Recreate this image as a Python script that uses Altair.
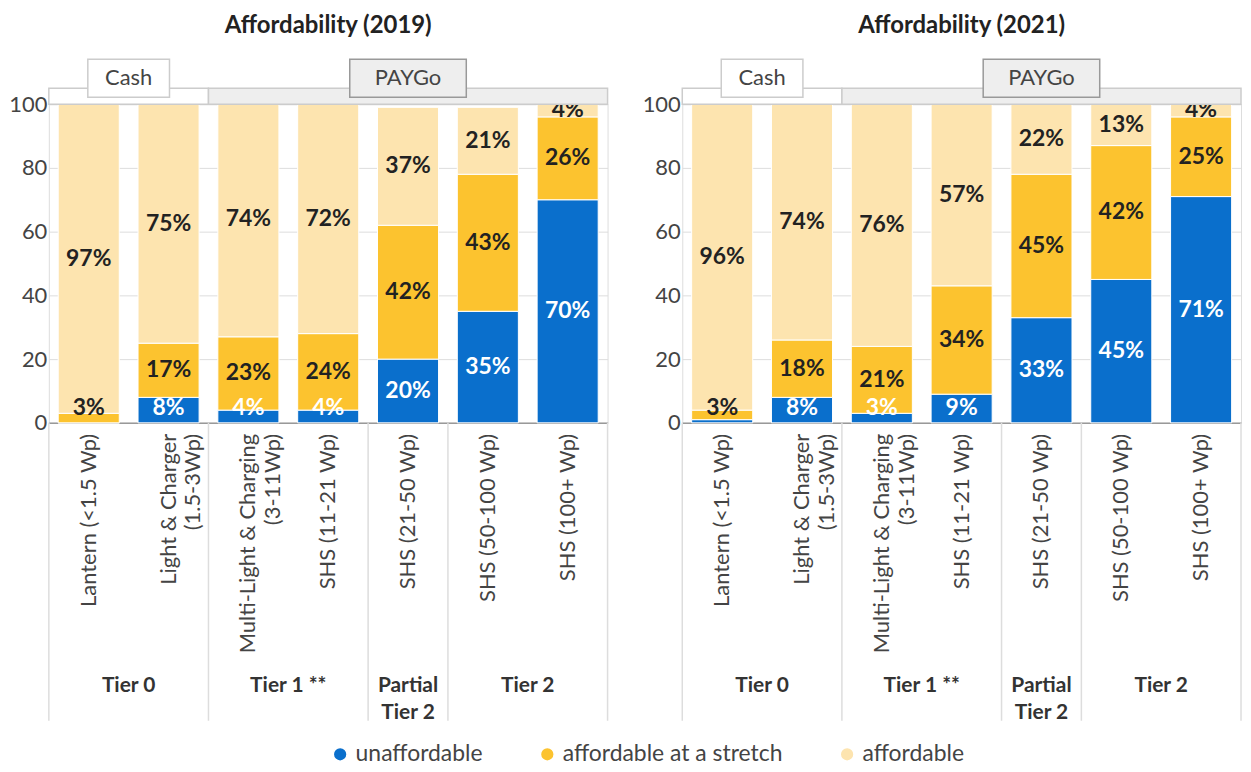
import altair as alt
import pandas as pd

products = ["Lantern  (<1.5 Wp)", "Light & Charger\n(1.5-3Wp)", "Multi-Light & Charging\n(3-11Wp)",
            "SHS  (11-21 Wp)", "SHS  (21-50 Wp)", "SHS  (50-100 Wp)", "SHS  (100+ Wp)"]
levels = ["unaffordable", "affordable at a stretch", "affordable"]

unaff_2019 = [0, 8, 4, 4, 20, 35, 70]
stretch_2019 = [3, 17, 23, 24, 42, 43, 26]
afford_2019 = [97, 75, 74, 72, 37, 21, 4]

unaff_2021 = [1, 8, 3, 9, 33, 45, 71]
stretch_2021 = [3, 18, 21, 34, 45, 42, 25]
afford_2021 = [96, 74, 76, 57, 22, 13, 4]

tiers = ["Tier 0", "Tier 1 **", "Partial\nTier 2", "Tier 2"]
tier_bounds = [0, 2, 4, 5, 7]          # product-index boundaries
payments = ["Cash", "PAYGo"]
payment_bounds = [0, 2, 7]
payment_box_centers = [1.0, 4.5]
years = ["2019", "2021"]

colors = ["#0a6fcc", "#fcc32f", "#fde4af"]
FONT = "Lato"
W, H = 561, 320
STEP = W / 7.0


def panel(year, u, s, a):
    rows = []
    for i, p in enumerate(products):
        base = 0
        for k, (lvl, v) in enumerate(zip(levels, (u[i], s[i], a[i]))):
            mid = base + v / 2
            rows.append(dict(product=p, level=lvl, order=k, value=v,
                             label=f"{v}%" if v >= 2 else "",
                             ly=min(max(mid, 4.6), 99.6)))
            base += v
    df = pd.DataFrame(rows)

    xscale = alt.Scale(domain=products, paddingInner=0.235, paddingOuter=0.1175)
    xb = alt.X("product:N", sort=products, scale=xscale,
               axis=alt.Axis(title=None, labels=False, ticks=False, domain=True,
                             domainColor="#999", domainWidth=1.5, grid=False))
    xb_noaxis = alt.X("product:N", sort=products, scale=xscale, axis=None)
    qscale = alt.Scale(domain=[0, 7], nice=False, zero=False)
    xq = alt.X("pos:Q", scale=qscale, axis=None)
    xq2 = alt.X2("pos2:Q")

    bars = alt.Chart(df).mark_bar(stroke="white", strokeWidth=1).encode(
        x=xb,
        y=alt.Y("value:Q", stack="zero", scale=alt.Scale(domain=[0, 100]),
                axis=alt.Axis(title=None, values=[0, 20, 40, 60, 80, 100], ticks=False,
                              domain=False, labelFontSize=22, labelColor="#444",
                              labelPadding=2, gridColor="#dddddd", labelFont=FONT)),
        color=alt.Color("level:N", sort=levels, scale=alt.Scale(domain=levels, range=colors),
                        legend=alt.Legend(title=None, orient="none", direction="horizontal",
                                          legendX=281, legendY=641, symbolType="circle",
                                          symbolSize=190, labelFontSize=23, labelColor="#444",
                                          labelFont=FONT, columnPadding=53, symbolOffset=0,
                                          labelLimit=600)),
        order=alt.Order("order:Q"),
    )

    seg_labels = alt.Chart(df).transform_filter("datum.label != ''").mark_text(
        font=FONT, fontSize=23, fontWeight="bold", baseline="middle").encode(
        x=xb_noaxis,
        y=alt.Y("ly:Q", scale=alt.Scale(domain=[0, 100])),
        text="label:N",
        color=alt.condition("datum.order == 0", alt.value("white"), alt.value("#222")),
    )

    prod_df = pd.DataFrame({"product": products})
    prod_labels = alt.Chart(prod_df).mark_text(
        font=FONT, fontSize=22, color="#444", angle=270, align="right", baseline="middle",
        lineBreak="\n", lineHeight=25).encode(
        x=xb_noaxis, y=alt.value(H + 11), text="product:N")

    sep_df = pd.DataFrame({"pos": tier_bounds})
    seps = alt.Chart(sep_df).mark_rule(color="#dddddd", strokeWidth=1.5).encode(
        x=xq, y=alt.value(H), y2=alt.value(H + 299))

    tier_df = pd.DataFrame({"pos": [(tier_bounds[i] + tier_bounds[i + 1]) / 2 for i in range(len(tiers))],
                            "tier": tiers})
    tier_labels = alt.Chart(tier_df).mark_text(
        font=FONT, fontSize=21, fontWeight="bold", color="#333", baseline="top",
        lineBreak="\n", lineHeight=27).encode(x=xq, y=alt.value(H + 253), text="tier:N")

    strip_df = pd.DataFrame({"pos": payment_bounds[:-1], "pos2": payment_bounds[1:], "pay": payments})
    strip = alt.Chart(strip_df).mark_rect(stroke="#cccccc", strokeWidth=1.5).encode(
        x=xq, x2=xq2, y=alt.value(-16), y2=alt.value(0),
        fill=alt.condition("datum.pay == 'Cash'", alt.value("white"), alt.value("#eeeeee")))

    half = [41 / STEP, 58.5 / STEP]
    box_df = pd.DataFrame({"pos": [c - h for c, h in zip(payment_box_centers, half)],
                           "pos2": [c + h for c, h in zip(payment_box_centers, half)],
                           "center": payment_box_centers, "pay": payments})
    boxes = alt.Chart(box_df).mark_rect(strokeWidth=1.5).encode(
        x=xq, x2=xq2, y=alt.value(-45), y2=alt.value(-7),
        fill=alt.condition("datum.pay == 'Cash'", alt.value("white"), alt.value("#eeeeee")),
        stroke=alt.condition("datum.pay == 'Cash'", alt.value("#cccccc"), alt.value("#999999")))
    box_text = alt.Chart(box_df).mark_text(font=FONT, fontSize=22, color="#444", baseline="middle").encode(
        x=alt.X("center:Q", scale=qscale, axis=None),
        y=alt.value(-26), text="pay:N")

    title_df = pd.DataFrame({"center": [3.5], "t": [f"Affordability ({year})"]})
    title = alt.Chart(title_df).mark_text(font=FONT, fontSize=24, fontWeight="bold", color="#222",
                                          baseline="middle").encode(
        x=alt.X("center:Q", scale=qscale, axis=None),
        y=alt.value(-78), text="t:N")

    return alt.layer(bars, seg_labels, prod_labels, seps, tier_labels, strip, boxes, box_text, title).resolve_scale(
        x="independent").properties(width=W, height=H)


left = panel(years[0], unaff_2019, stretch_2019, afford_2019)
right = panel(years[1], unaff_2021, stretch_2021, afford_2021)

chart = alt.hconcat(left, right, spacing=32).configure_view(stroke=None).configure(
    font=FONT, padding={"left": 0, "top": 4, "right": 0, "bottom": 0})

chart.save("out.html", embed_options={"renderer": "svg", "actions": False})
